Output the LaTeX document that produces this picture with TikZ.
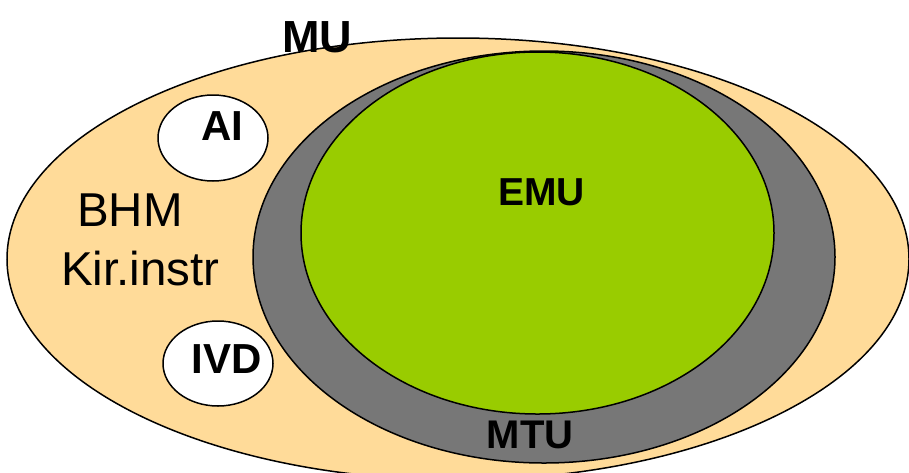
\documentclass[tikz,border=0pt]{standalone}
\usepackage{fontspec}
\setmainfont{Liberation Sans}
\definecolor{muorange}{HTML}{FFDB99}
\definecolor{mtugray}{HTML}{777777}
\definecolor{emugreen}{HTML}{99CC00}
\begin{document}
\begin{tikzpicture}[x=1pt,y=-1pt,
  region/.style={draw=black,line width=1.5pt},
  boldlabel/.style={anchor=base,inner sep=0pt,font=\bfseries\fontsize{41}{41}\selectfont},
  plainlabel/.style={anchor=base west,inner sep=0pt,font=\fontsize{47.5}{47.5}\selectfont}]
\useasboundingbox (0,0) rectangle (909,472);
\clip (0,0) rectangle (909,472);
% MU
\draw[region,fill=muorange] (458,259) ellipse [x radius=451,y radius=221];
% MTU
\draw[region,fill=mtugray] (544,257) ellipse [x radius=291,y radius=206];
% EMU
\draw[region,fill=emugreen] (537.5,233) ellipse [x radius=236.5,y radius=181];
% AI, IVD
\draw[region,fill=white] (213,138) ellipse [x radius=55,y radius=43];
\draw[region,fill=white] (218,363.5) ellipse [x radius=55,y radius=42.5];
% labels
\node[boldlabel,font=\bfseries\fontsize{45}{45}\selectfont] (mu) at (317,52) {MU};
\node[boldlabel,font=\bfseries\fontsize{42}{42}\selectfont] (ai) at (222,140) {AI};
\node[boldlabel,font=\bfseries\fontsize{42}{42}\selectfont] (ivd) at (227,373) {IVD};
\node[boldlabel,font=\bfseries\fontsize{39}{39}\selectfont] (emu) at (541.5,205) {EMU};
\node[boldlabel,font=\bfseries\fontsize{40}{40}\selectfont] (mtu) at (530,448) {MTU};
\node[plainlabel] (bhm) at (77,226) {BHM};
\node[plainlabel] (kir) at (61,285) {Kir.instr};
\end{tikzpicture}
\end{document}
